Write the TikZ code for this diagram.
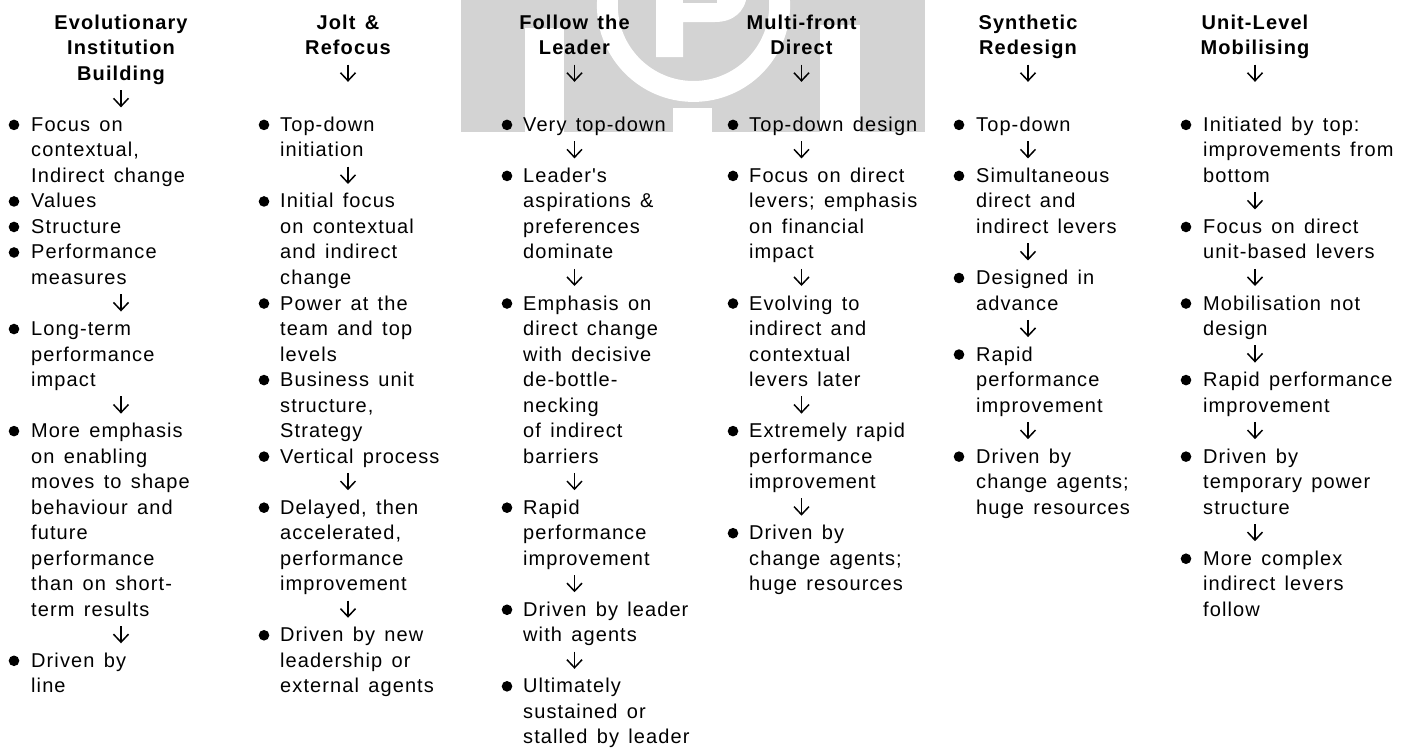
\documentclass[tikz,border=0pt]{standalone}
\usepackage{fontspec}
\setmainfont{Liberation Sans}[LetterSpace=5.5,WordSpace=1.4]
\newfontface\rawquote{Liberation Sans}[LetterSpace=5.5,WordSpace=1.4]
\usetikzlibrary{arrows.meta}
\definecolor{wmgray}{HTML}{D3D3D3}
\tikzset{
  hdr/.style={anchor=base,inner sep=0pt,font=\fontsize{20}{24}\selectfont\bfseries},
  txt/.style={anchor=base west,inner sep=0pt,font=\fontsize{20}{24}\selectfont},
  dot/.style={circle,fill=black,inner sep=0pt,minimum size=10.6pt},
  flow/.style={line width=1.5pt,-{Straight Barb[length=8pt,width=15pt,line width=1.5pt]}}
}
\newcommand{\SetCol}[4]{\def\cid{#1}\def\xb{#2}\def\xt{#3}\def\xa{#4}}
\newcommand{\HdL}[2]{\node[hdr] (h\cid-#1) at (\xa,{29.3+25.52*#1}) {#2};}
\newcommand{\TxL}[2]{\node[txt] (t\cid-#1) at (\xt,{29.3+25.52*#1}) {#2};}
\newcommand{\BuL}[2]{\node[dot] (b\cid-#1) at (\xb,{22.8+25.52*#1}) {};\TxL{#1}{#2}}
\newcommand{\ArL}[1]{\coordinate (s\cid-#1) at (\xa,{13.6+25.52*#1});\coordinate (e\cid-#1) at (\xa,{30.8+25.52*#1});\draw[flow] (s\cid-#1) -- (e\cid-#1);}
\begin{document}
\begin{tikzpicture}[x=1pt,y=-1pt]
\useasboundingbox (0,0) rectangle (1409,750);
\begin{scope}
\clip (461,0) rectangle (925,132);
\fill[wmgray] (461,0) rectangle (925,132);
\fill[white,even odd rule] (693.5,5.3) circle (96.6) (693.5,5.3) circle (75.7);
\fill[white] (525,28) rectangle (564,132);
\fill[white] (820,25) rectangle (860,132);
\fill[white] (673,108) rectangle (712,132);
\fill[white] (656,-5) -- (656,57) -- (683,57) -- (683,22) -- (715,22) .. controls (733,22) and (745,12) .. (747,-5) -- cycle;
\fill[wmgray] (683,-5) rectangle (717,3);
\end{scope}

\SetCol{1}{14}{31}{121}
\HdL{0}{Evolutionary}\HdL{1}{Institution}\HdL{2}{Building}\ArL{3}
\BuL{4}{Focus on}\TxL{5}{contextual,}\TxL{6}{Indirect change}
\BuL{7}{Values}\BuL{8}{Structure}\BuL{9}{Performance}\TxL{10}{measures}\ArL{11}
\BuL{12}{Long-term}\TxL{13}{performance}\TxL{14}{impact}\ArL{15}
\BuL{16}{More emphasis}\TxL{17}{on enabling}\TxL{18}{moves to shape}\TxL{19}{behaviour and}\TxL{20}{future}\TxL{21}{performance}\TxL{22}{than on short-}\TxL{23}{term results}\ArL{24}
\BuL{25}{Driven by}\TxL{26}{line}

\SetCol{2}{264}{280}{348}
\HdL{0}{Jolt \&}\HdL{1}{Refocus}\ArL{2}
\BuL{4}{Top-down}\TxL{5}{initiation}\ArL{6}
\BuL{7}{Initial focus}\TxL{8}{on contextual}\TxL{9}{and indirect}\TxL{10}{change}
\BuL{11}{Power at the}\TxL{12}{team and top}\TxL{13}{levels}
\BuL{14}{Business unit}\TxL{15}{structure,}\TxL{16}{Strategy}
\BuL{17}{Vertical process}\ArL{18}
\BuL{19}{Delayed, then}\TxL{20}{accelerated,}\TxL{21}{performance}\TxL{22}{improvement}\ArL{23}
\BuL{24}{Driven by new}\TxL{25}{leadership or}\TxL{26}{external agents}

\SetCol{3}{507}{523}{574.5}
\HdL{0}{Follow the}\HdL{1}{Leader}\ArL{2}
\BuL{4}{Very top-down}\ArL{5}
\BuL{6}{{\rawquote Leader's}}\TxL{7}{aspirations \&}\TxL{8}{preferences}\TxL{9}{dominate}\ArL{10}
\BuL{11}{Emphasis on}\TxL{12}{direct change}\TxL{13}{with decisive}\TxL{14}{de-bottle-}\TxL{15}{necking}\TxL{16}{of indirect}\TxL{17}{barriers}\ArL{18}
\BuL{19}{Rapid}\TxL{20}{performance}\TxL{21}{improvement}\ArL{22}
\BuL{23}{Driven by leader}\TxL{24}{with agents}\ArL{25}
\BuL{26}{Ultimately}\TxL{27}{sustained or}\TxL{28}{stalled by leader}

\SetCol{4}{733}{749}{801.5}
\HdL{0}{Multi-front}\HdL{1}{Direct}\ArL{2}
\BuL{4}{Top-down design}\ArL{5}
\BuL{6}{Focus on direct}\TxL{7}{levers; emphasis}\TxL{8}{on financial}\TxL{9}{impact}\ArL{10}
\BuL{11}{Evolving to}\TxL{12}{indirect and}\TxL{13}{contextual}\TxL{14}{levers later}\ArL{15}
\BuL{16}{Extremely rapid}\TxL{17}{performance}\TxL{18}{improvement}\ArL{19}
\BuL{20}{Driven by}\TxL{21}{change agents;}\TxL{22}{huge resources}

\SetCol{5}{959}{976}{1028}
\HdL{0}{Synthetic}\HdL{1}{Redesign}\ArL{2}
\BuL{4}{Top-down}\ArL{5}
\BuL{6}{Simultaneous}\TxL{7}{direct and}\TxL{8}{indirect levers}\ArL{9}
\BuL{10}{Designed in}\TxL{11}{advance}\ArL{12}
\BuL{13}{Rapid}\TxL{14}{performance}\TxL{15}{improvement}\ArL{16}
\BuL{17}{Driven by}\TxL{18}{change agents;}\TxL{19}{huge resources}

\SetCol{6}{1186}{1203}{1255}
\HdL{0}{Unit-Level}\HdL{1}{Mobilising}\ArL{2}
\BuL{4}{Initiated by top:}\TxL{5}{improvements from}\TxL{6}{bottom}\ArL{7}
\BuL{8}{Focus on direct}\TxL{9}{unit-based levers}\ArL{10}
\BuL{11}{Mobilisation not}\TxL{12}{design}\ArL{13}
\BuL{14}{Rapid performance}\TxL{15}{improvement}\ArL{16}
\BuL{17}{Driven by}\TxL{18}{temporary power}\TxL{19}{structure}\ArL{20}
\BuL{21}{More complex}\TxL{22}{indirect levers}\TxL{23}{follow}
\end{tikzpicture}
\end{document}
